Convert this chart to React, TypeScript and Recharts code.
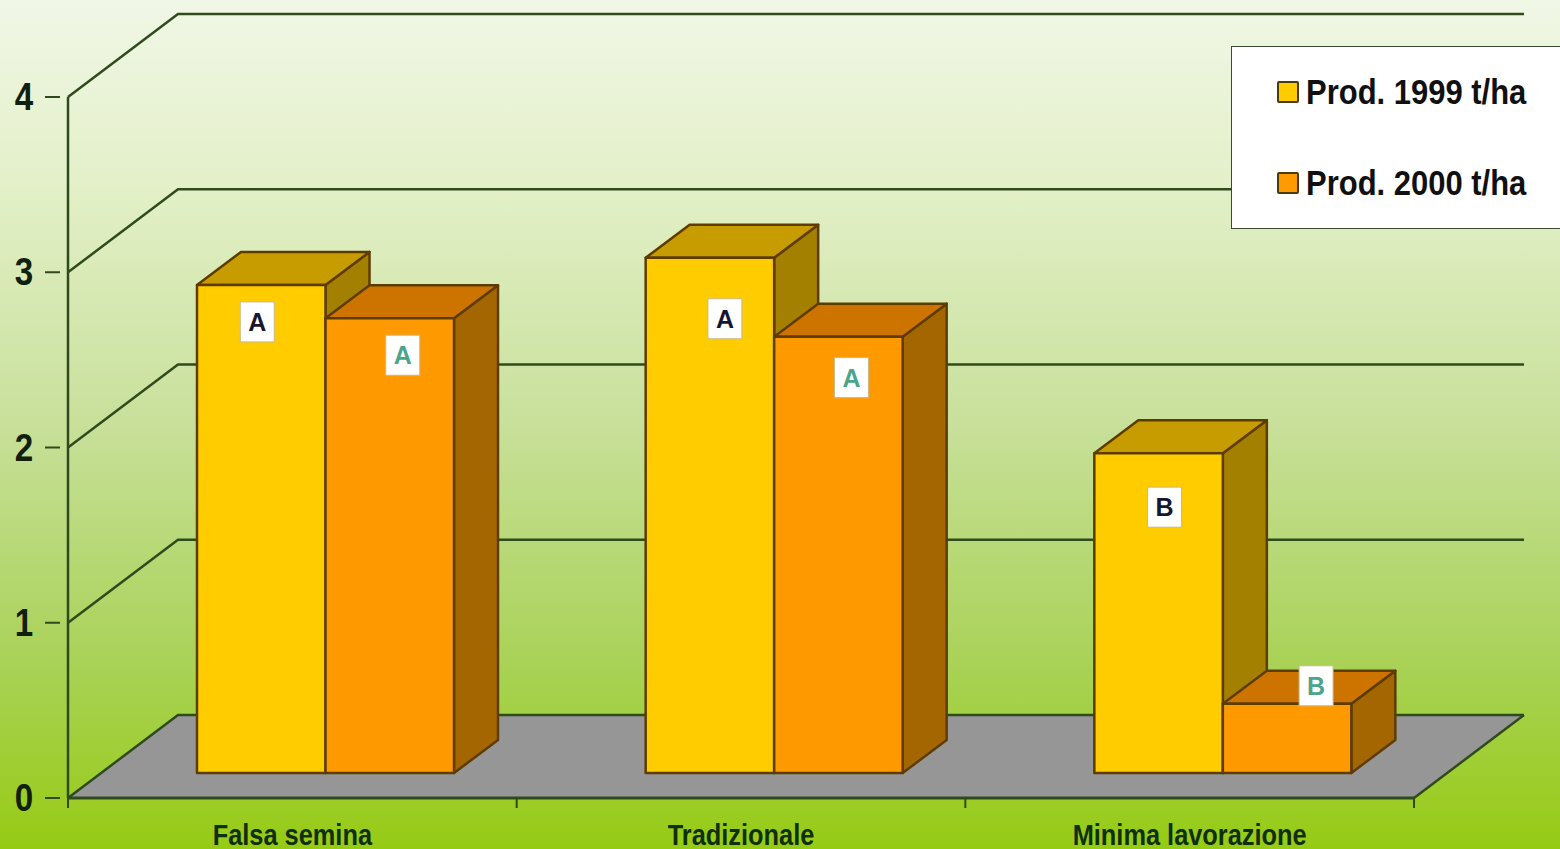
import { BarChart, Bar, XAxis, YAxis, CartesianGrid, Legend, LabelList } from 'recharts'

const categories = ['Falsa semina', 'Tradizionale', 'Minima lavorazione']
const prod1999 = [2.785, 2.94, 1.825]
const prod2000 = [2.595, 2.49, 0.395]
const letters1999 = ['A', 'A', 'B']
const letters2000 = ['A', 'A', 'B']
const yTicks = [0, 1, 2, 3, 4]

const data = categories.map((name, i) => ({
  name,
  prod1999: prod1999[i],
  prod2000: prod2000[i],
  letter1999: letters1999[i],
  letter2000: letters2000[i],
}))

// 3d look: back wall offset and the offset of the bars inside the depth
const WALL_DX = 110
const WALL_DY = 83
const BAR_DX = 33
const BAR_DY = 25
const DEPTH_DX = 44
const DEPTH_DY = 33
const BAND = 1346 / 3

const FONT = '"Liberation Sans", Arial, sans-serif'
const LINE = '#2f4a1c'
const BAR_LINE = '#5e3c00'

// the letter boxes were placed by hand in the original slide
const boxOffsets1999 = [[-4, 37], [15, 61], [6, 54]]
const boxOffsets2000 = [[13, 37], [13, 41], [29, -18]]

const shades: Record<string, { top: string; side: string }> = {
  '#ffcc00': { top: '#c69c00', side: '#a38000' },
  '#ff9900': { top: '#cc7300', side: '#a46600' },
}

function Box3D({ x, y, width, height, fill }: any) {
  const fx = x + BAR_DX
  const fy = y - BAR_DY
  const { top, side } = shades[fill]
  return (
    <g stroke={BAR_LINE} strokeWidth={2.5} strokeLinejoin="round">
      <path
        d={`M${fx + width} ${fy} l${DEPTH_DX} ${-DEPTH_DY} v${height} l${-DEPTH_DX} ${DEPTH_DY} Z`}
        fill={side}
      />
      <path
        d={`M${fx} ${fy} l${DEPTH_DX} ${-DEPTH_DY} h${width} l${-DEPTH_DX} ${DEPTH_DY} Z`}
        fill={top}
      />
      <rect x={fx} y={fy} width={width} height={height} fill={fill} />
    </g>
  )
}

function wallLine({ x1, x2, y1, index }: any) {
  const isFloor = y1 > 790
  return (
    <g key={index}>
      {isFloor && (
        <path
          d={`M${x1} ${y1} L${x1 + WALL_DX} ${y1 - WALL_DY} H${x2 + WALL_DX} L${x2} ${y1} Z`}
          fill="#969696"
        />
      )}
      <path
        d={`M${x1} ${y1} L${x1 + WALL_DX} ${y1 - WALL_DY} H${x2 + WALL_DX}`}
        fill="none"
        stroke={LINE}
        strokeWidth={2.5}
      />
      {isFloor && <path d={`M${x2} ${y1} l${WALL_DX} ${-WALL_DY}`} fill="none" stroke={LINE} strokeWidth={2.5} />}
    </g>
  )
}

function YTick({ x, y, payload }: any) {
  return (
    <g>
      <line x1={x - 15} x2={x} y1={y} y2={y} stroke={LINE} strokeWidth={2} />
      <text
        transform={`translate(24 ${y + 13}) scale(0.85 1)`}
        textAnchor="middle"
        fontFamily={FONT}
        fontWeight="bold"
        fontSize={39}
        fill="#10200c"
      >
        {payload.value}
      </text>
    </g>
  )
}

function XTick({ x, y, payload, index }: any) {
  return (
    <g>
      {index === 0 && <line x1={x - BAND / 2} x2={x - BAND / 2} y1={y - 8} y2={y + 2} stroke={LINE} strokeWidth={2} />}
      <line x1={x + BAND / 2} x2={x + BAND / 2} y1={y - 8} y2={y + 2} stroke={LINE} strokeWidth={2} />
      <text
        transform={`translate(${x} 845) scale(0.875 1)`}
        textAnchor="middle"
        fontFamily={FONT}
        fontWeight="bold"
        fontSize={29}
        fill="#10300c"
      >
        {payload.value}
      </text>
    </g>
  )
}

const letterBox = (offsets: number[][], color: string) => (props: any) => {
  const { x, y, width, index, value } = props
  const [dx, dy] = offsets[index]
  const cx = x + width / 2 + BAR_DX + dx
  const cy = y - BAR_DY + dy
  return (
    <g>
      <rect x={cx - 17} y={cy - 20} width={34} height={40} fill="#ffffff" stroke="#c9b98a" strokeWidth={1} />
      <text
        x={cx}
        y={cy + 9}
        textAnchor="middle"
        fontFamily={FONT}
        fontWeight="bold"
        fontSize={25}
        fill={color}
      >
        {value}
      </text>
    </g>
  )
}

function LegendBox({ payload }: any) {
  return (
    <div
      style={{
        boxSizing: 'border-box',
        width: 331,
        height: 183,
        background: '#ffffff',
        border: '1px solid #3c4a30',
        position: 'relative',
      }}
    >
      {(payload ?? []).map((item: any, i: number) => (
        <div key={item.value}>
          <div
            style={{
              position: 'absolute',
              left: 45,
              top: 34 + i * 91,
              width: 22,
              height: 22,
              boxSizing: 'border-box',
              background: item.color,
              border: '2px solid #4a3a10',
              borderRadius: 2,
            }}
          />
          <div
            style={{
              position: 'absolute',
              left: 74,
              top: 23 + i * 91,
              fontFamily: FONT,
              fontWeight: 'bold',
              fontSize: 35,
              lineHeight: '44px',
              color: '#101010',
              whiteSpace: 'nowrap',
              transform: 'scaleX(0.885)',
              transformOrigin: 'left center',
            }}
          >
            {item.value}
          </div>
        </div>
      ))}
    </div>
  )
}

export default function App() {
  return (
    <div
      style={{
        position: 'absolute',
        left: 0,
        top: 0,
        width: 1560,
        height: 849,
        overflow: 'hidden',
        background: 'linear-gradient(to bottom, #f0f7e6 0%, #e3f0c8 22%, #c8e09a 50%, #a9d257 78%, #96cb14 100%)',
      }}
    >
      <BarChart
        width={1560}
        height={849}
        data={data}
        margin={{ top: 97, right: 146, bottom: 0, left: 0 }}
        barSize={128.5}
        barGap={0}
      >
        <CartesianGrid horizontal={wallLine} vertical={false} />
        <XAxis
          dataKey="name"
          height={51}
          interval={0}
          tick={<XTick />}
          tickLine={false}
          axisLine={{ stroke: LINE, strokeWidth: 3 }}
        />
        <YAxis
          width={68}
          domain={[0, 4]}
          ticks={yTicks}
          tick={<YTick />}
          tickLine={false}
          axisLine={{ stroke: LINE, strokeWidth: 2.5 }}
        />
        <Legend
          layout="vertical"
          align="center"
          verticalAlign="middle"
          content={<LegendBox />}
          wrapperStyle={{ left: 1231, top: 46, width: 331, height: 183 }}
        />
        <Bar dataKey="prod1999" name="Prod. 1999 t/ha" fill="#ffcc00" shape={<Box3D />} isAnimationActive={false}>
          <LabelList dataKey="letter1999" content={letterBox(boxOffsets1999, '#16162e')} />
        </Bar>
        <Bar dataKey="prod2000" name="Prod. 2000 t/ha" fill="#ff9900" shape={<Box3D />} isAnimationActive={false}>
          <LabelList dataKey="letter2000" content={letterBox(boxOffsets2000, '#4aa58a')} />
        </Bar>
      </BarChart>
    </div>
  )
}
